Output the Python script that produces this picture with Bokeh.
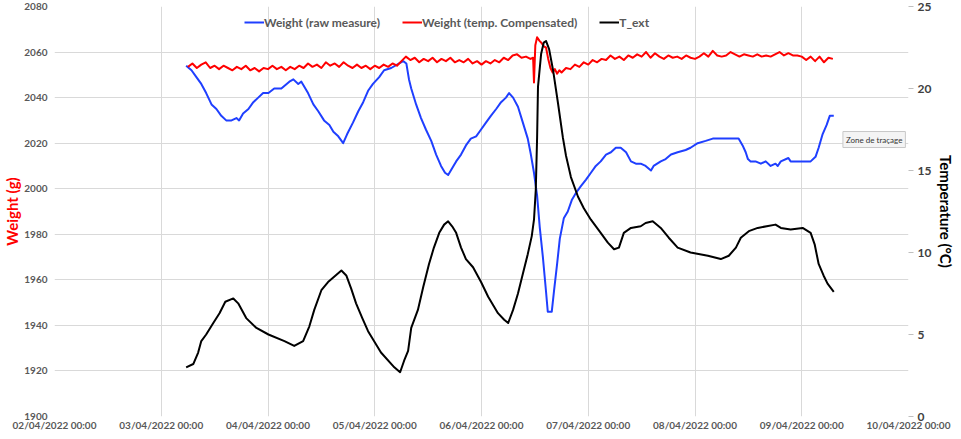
from bokeh.plotting import figure
from bokeh.models import Range1d, LinearAxis, FixedTicker, Legend, LegendItem, Label
from bokeh.embed import file_html
from bokeh.resources import INLINE

# x positions are hours since 02/04/2022 00:00
tick_hours = [0, 24, 48, 72, 96, 120, 144, 168, 192]
tick_labels = ["02/04/2022 00:00", "03/04/2022 00:00", "04/04/2022 00:00", "05/04/2022 00:00",
               "06/04/2022 00:00", "07/04/2022 00:00", "08/04/2022 00:00", "09/04/2022 00:00",
               "10/04/2022 00:00"]
weight_ticks = [1900, 1920, 1940, 1960, 1980, 2000, 2020, 2040, 2060, 2080]
temp_ticks = [0, 5, 10, 15, 20, 25]

raw_t = [29.6, 30.8, 31.9, 33.0, 34.1, 35.3, 36.4, 37.5, 38.6, 39.8, 40.9, 41.5, 42.4, 43.6, 44.7,
         45.8, 46.9, 48.1, 49.4, 51.0, 52.8, 53.7, 54.8, 55.5, 56.4, 57.0, 58.2, 59.3, 60.6, 61.8,
         62.7, 63.8, 64.9, 65.8, 67.1, 68.3, 69.4, 70.5, 71.6, 73.0, 74.1, 75.7, 77.5, 78.4, 79.1,
         79.7, 80.2, 81.3, 82.4, 83.5, 84.7, 85.8, 86.9, 87.8, 88.5, 89.4, 90.3, 91.4, 92.5, 93.6,
         94.8, 95.9, 97.0, 98.1, 99.3, 100.4, 101.5, 102.2, 103.1, 104.2, 105.3, 106.4, 107.1, 107.8,
         108.5, 109.1, 109.8, 110.5, 110.9, 111.8, 112.3, 113.0, 113.6, 114.5, 115.4, 116.3, 117.2,
         118.3, 119.5, 120.6, 121.7, 122.8, 124.0, 125.1, 126.2, 127.3, 128.5, 129.6, 130.7, 131.8,
         132.9, 134.1, 134.7, 136.3, 137.4, 138.6, 140.1, 141.9, 143.0, 144.6, 146.4, 148.0, 149.8,
         152.0, 153.8, 154.7, 155.4, 155.9, 156.5, 157.6, 158.8, 159.9, 161.0, 162.1, 162.6, 163.3,
         165.0, 165.5, 166.6, 167.7, 170.0, 171.1, 171.8, 172.7, 173.6, 174.3, 175.2]
raw_w = [2054, 2052, 2049, 2046, 2042, 2037, 2035, 2032, 2030, 2030, 2031, 2030, 2033, 2035, 2038,
         2040, 2042, 2042, 2044, 2044, 2047, 2048, 2046, 2047, 2044, 2042, 2037, 2034, 2030, 2028,
         2025, 2023, 2020, 2024, 2029, 2034, 2038, 2043, 2046, 2049, 2052, 2053, 2055, 2056, 2055,
         2048, 2044, 2037, 2031, 2026, 2021, 2015, 2010, 2007, 2006, 2009, 2012, 2015, 2019, 2022,
         2023, 2026, 2029, 2032, 2035, 2038, 2040, 2042, 2040, 2036, 2029, 2022, 2015, 2007,
         1997, 1983, 1970, 1955, 1946, 1946, 1955, 1967, 1978, 1987, 1990, 1995, 1998,
         2001, 2004, 2007, 2010, 2012, 2015, 2016, 2018, 2018, 2016, 2012, 2011, 2011,
         2010, 2008, 2010, 2012, 2013, 2015, 2016, 2017, 2018, 2020, 2021, 2022, 2022,
         2022, 2022, 2019, 2016, 2013, 2012, 2012, 2011, 2012, 2010, 2011, 2010, 2012,
         2013.5, 2012, 2012, 2012, 2012, 2014, 2018, 2024, 2028, 2032, 2032]

comp_t = [30, 31, 32, 33, 34, 35, 36, 37, 38, 39, 40, 41, 42, 43, 44, 45, 46, 47, 48, 49, 50,
          51, 52, 53, 54, 55, 56, 57, 58, 59, 60, 61, 62, 63, 64, 65, 66, 67, 68, 69, 70, 71,
          72, 73, 74, 75, 76, 77, 78, 79, 80, 81, 82, 83, 84, 85, 86, 87, 88, 89, 90, 91, 92,
          93, 94, 95, 96, 97, 98, 99, 100, 101, 102, 103, 104, 105, 106, 107, 107.6, 107.8,
          108.1, 108.5, 109.0, 109.5, 110.0, 110.5, 111.0, 111.5, 112.0, 112.5, 113.0, 113.5,
          114, 115, 116, 117, 118, 119, 120, 121, 122, 123, 124, 125, 126, 127, 128, 129, 130,
          131, 132, 133, 134, 135, 136, 137, 138, 139, 140, 141, 142, 143, 144, 145, 146, 147,
          148, 149, 150, 151, 152, 153, 154, 155, 156, 157, 158, 159, 160, 161, 162, 163, 164,
          165, 166, 167, 168, 169, 170, 171, 172, 173, 174, 175]
comp_w = [2053.5, 2055.0, 2053.0, 2054.5, 2055.5, 2053.0, 2054.0, 2052.5, 2054.0, 2053.0, 2052.0,
          2053.5, 2052.5, 2054.0, 2052.0, 2053.0, 2051.5, 2053.0, 2052.5, 2054.0, 2052.5,
          2053.5, 2052.0, 2053.5, 2052.5, 2054.0, 2053.0, 2055.0, 2053.5, 2054.5, 2053.0,
          2055.5, 2054.0, 2055.0, 2053.5, 2055.5, 2054.0, 2053.0, 2054.5, 2053.0, 2054.0,
          2052.5, 2054.0, 2053.0, 2054.5, 2053.5, 2055.0, 2054.0, 2056.0, 2058.0, 2056.5,
          2057.5, 2055.5, 2057.0, 2056.0, 2057.5, 2055.5, 2057.0, 2056.0, 2057.5, 2055.5,
          2056.5, 2055.5, 2057.0, 2055.0, 2056.0, 2054.5, 2056.0, 2055.0, 2056.5, 2055.5,
          2057.5, 2056.5, 2058.5, 2059.0, 2057.5, 2058.0, 2057.0, 2057.5, 2046.6,
          2063.0, 2066.5, 2065.0, 2064.0, 2062.5, 2062.0, 2057.0, 2053.0, 2051.0, 2052.5,
          2050.5, 2052.0, 2051.0, 2053.0, 2052.5, 2054.5, 2053.5, 2055.5, 2054.5, 2056.5,
          2055.5, 2057.0, 2056.5, 2058.5, 2057.0, 2058.0, 2056.5, 2058.5, 2057.5, 2059.0,
          2058.0, 2060.0, 2057.5, 2059.5, 2058.0, 2057.0, 2058.5, 2057.5, 2058.0, 2057.0,
          2058.5, 2057.5, 2057.0, 2058.0, 2059.5, 2058.0, 2060.5, 2058.5, 2058.0, 2058.5,
          2060.0, 2059.0, 2058.0, 2059.0, 2058.5, 2058.0, 2059.0, 2058.0, 2058.5, 2058.0,
          2059.0, 2060.0, 2058.5, 2059.5, 2058.5, 2058.5, 2058.0, 2056.5, 2058.0, 2056.0,
          2058.0, 2055.5, 2057.5, 2057.0]

text_t = [29.6, 31.2, 32.3, 33.0, 34.1, 35.7, 37.1, 38.4, 40.2, 41.3, 43.1, 45.4, 48.1, 51.7,
          53.9, 55.9, 57.3, 58.4, 60.0, 61.5, 64.5, 65.6, 66.7, 67.8, 69.2, 70.5, 73.4, 76.4,
          77.7, 78.6, 79.5, 80.2, 81.7, 82.9, 84.2, 85.3, 86.5, 87.6, 88.5, 89.4, 90.3, 91.4,
          92.5, 94.1, 95.9, 97.5, 99.7, 101.1, 102.0, 103.1, 104.2, 105.3, 106.4, 107.3, 107.8,
          108.2, 108.5, 108.7, 109.4, 110.0, 110.5, 111.2, 112.1, 113.2, 114.3, 115.0, 116.1,
          117.7, 119.0, 120.6, 122.8, 124.4, 125.8, 126.9, 128.0, 129.6, 131.8, 132.9, 134.5,
          136.3, 138.1, 140.1, 143.0, 146.9, 149.8, 151.6, 153.2, 154.3, 156.1, 158.1, 162.1,
          163.3, 165.5, 168.2, 170.0, 170.9, 171.8, 172.9, 173.8, 175.2]
text_v = [3.0, 3.2, 3.9, 4.6, 5.0, 5.7, 6.3, 7.0, 7.2, 6.9, 6.0, 5.4, 5.0, 4.6,
          4.3, 4.6, 5.5, 6.5, 7.7, 8.2, 8.9, 8.6, 7.8, 6.9, 6.0, 5.2, 3.9, 3.0,
          2.7, 3.4, 4.0, 5.4, 6.5, 7.9, 9.3, 10.3, 11.2, 11.7, 11.9, 11.6, 11.2, 10.3,
          9.6, 9.1, 8.2, 7.3, 6.3, 5.9, 5.7, 6.5, 7.5, 8.7, 9.9, 11.0, 12.0,
          13.8, 17.0, 20.1, 22.1, 22.8, 22.9, 22.4, 21.1, 19.1, 17.0, 15.9, 14.6,
          13.4, 12.7, 12.0, 11.2, 10.6, 10.2, 10.3, 11.2, 11.5, 11.6, 11.8, 11.9,
          11.5, 10.9, 10.3, 10.0, 9.8, 9.6, 9.8, 10.3, 10.9, 11.3, 11.5, 11.7,
          11.5, 11.4, 11.5, 11.2, 10.5, 9.3, 8.6, 8.1, 7.6]

series_names = ["Weight (raw measure)", "Weight (temp. Compensated)", "T_ext"]

FONT = "Lato"
TICK_COLOR = "#595959"
FRAME_H = 410

p = figure(frame_width=854, frame_height=FRAME_H, output_backend="svg", toolbar_location=None,
           x_range=Range1d(0, 192), y_range=Range1d(1900, 2080),
           min_border_top=6, min_border_left=0, min_border_right=0, min_border_bottom=0,
           background_fill_color="white", border_fill_color="white")
p.outline_line_color = None
p.extra_y_ranges = {"temp": Range1d(0, 25)}

# grid
p.xgrid.grid_line_color = "#d9d9d9"
p.ygrid.grid_line_color = "#d9d9d9"
p.xgrid.grid_line_width = 1
p.ygrid.grid_line_width = 1

# bottom axis
xa = p.xaxis[0]
xa.ticker = FixedTicker(ticks=tick_hours)
xa.major_label_overrides = {h: lab for h, lab in zip(tick_hours, tick_labels)}
xa.axis_line_color = None
xa.major_tick_line_color = None
xa.minor_tick_line_color = None
xa.major_tick_in = 0
xa.major_tick_out = 0
xa.major_label_standoff = 2
xa.major_label_text_font = FONT
xa.major_label_text_font_size = "10px"
xa.major_label_text_font_style = "bold"
xa.major_label_text_color = TICK_COLOR

# left axis
ya = p.yaxis[0]
ya.ticker = FixedTicker(ticks=weight_ticks)
ya.axis_line_color = None
ya.major_tick_line_color = None
ya.minor_tick_line_color = None
ya.major_tick_in = 0
ya.major_tick_out = 0
ya.major_label_standoff = 7
ya.major_label_text_font = FONT
ya.major_label_text_font_size = "10px"
ya.major_label_text_font_style = "bold"
ya.major_label_text_color = TICK_COLOR
ya.axis_label = "Weight (g)"
ya.axis_label_text_font = FONT
ya.axis_label_text_font_size = "15px"
ya.axis_label_text_font_style = "bold"
ya.axis_label_text_color = "#ff0000"
ya.axis_label_standoff = 0

# right axis
ra = LinearAxis(y_range_name="temp", ticker=FixedTicker(ticks=temp_ticks),
                axis_label="Temperature (°C)")
ra.axis_line_color = None
ra.major_tick_line_color = "#bfbfbf"
ra.major_tick_in = 0
ra.major_tick_out = 5
ra.minor_tick_line_color = None
ra.major_label_standoff = 4
ra.major_label_text_font = FONT
ra.major_label_text_font_size = "12px"
ra.major_label_text_font_style = "bold"
ra.major_label_text_color = "#404040"
ra.axis_label_text_font = FONT
ra.axis_label_text_font_size = "15px"
ra.axis_label_text_font_style = "bold"
ra.axis_label_text_color = "#000000"
ra.axis_label_standoff = 3
p.add_layout(ra, "right")

r_raw = p.line(raw_t, raw_w, line_color="#1f3fff", line_width=2.0, line_join="round")
r_comp = p.line(comp_t, comp_w, line_color="#ff0000", line_width=2.0, line_join="round")
r_text = p.line(text_t, text_v, line_color="#000000", line_width=2.0, line_join="round",
                y_range_name="temp")

legend = Legend(items=[LegendItem(label=series_names[0], renderers=[r_raw]),
                       LegendItem(label=series_names[1], renderers=[r_comp]),
                       LegendItem(label=series_names[2], renderers=[r_text])],
                orientation="horizontal", location=(190, FRAME_H - 24))
legend.background_fill_alpha = 0
legend.border_line_alpha = 0
legend.glyph_width = 20
legend.glyph_height = 16
legend.label_standoff = 0
legend.spacing = 22
legend.padding = 0
legend.margin = 0
legend.label_text_font = FONT
legend.label_text_font_size = "12px"
legend.label_text_font_style = "bold"
legend.label_text_color = TICK_COLOR
p.add_layout(legend)

tip = Label(x=191.3, y=2021.6, text="Zone de traçage", text_font=FONT, text_font_size="8px",
            text_color="#333333", text_baseline="middle", text_align="right",
            background_fill_color="#f4f4f4", border_line_color="#c8c8c8", padding=3)
p.add_layout(tip)

open("out.html", "w").write(file_html(p, INLINE))
